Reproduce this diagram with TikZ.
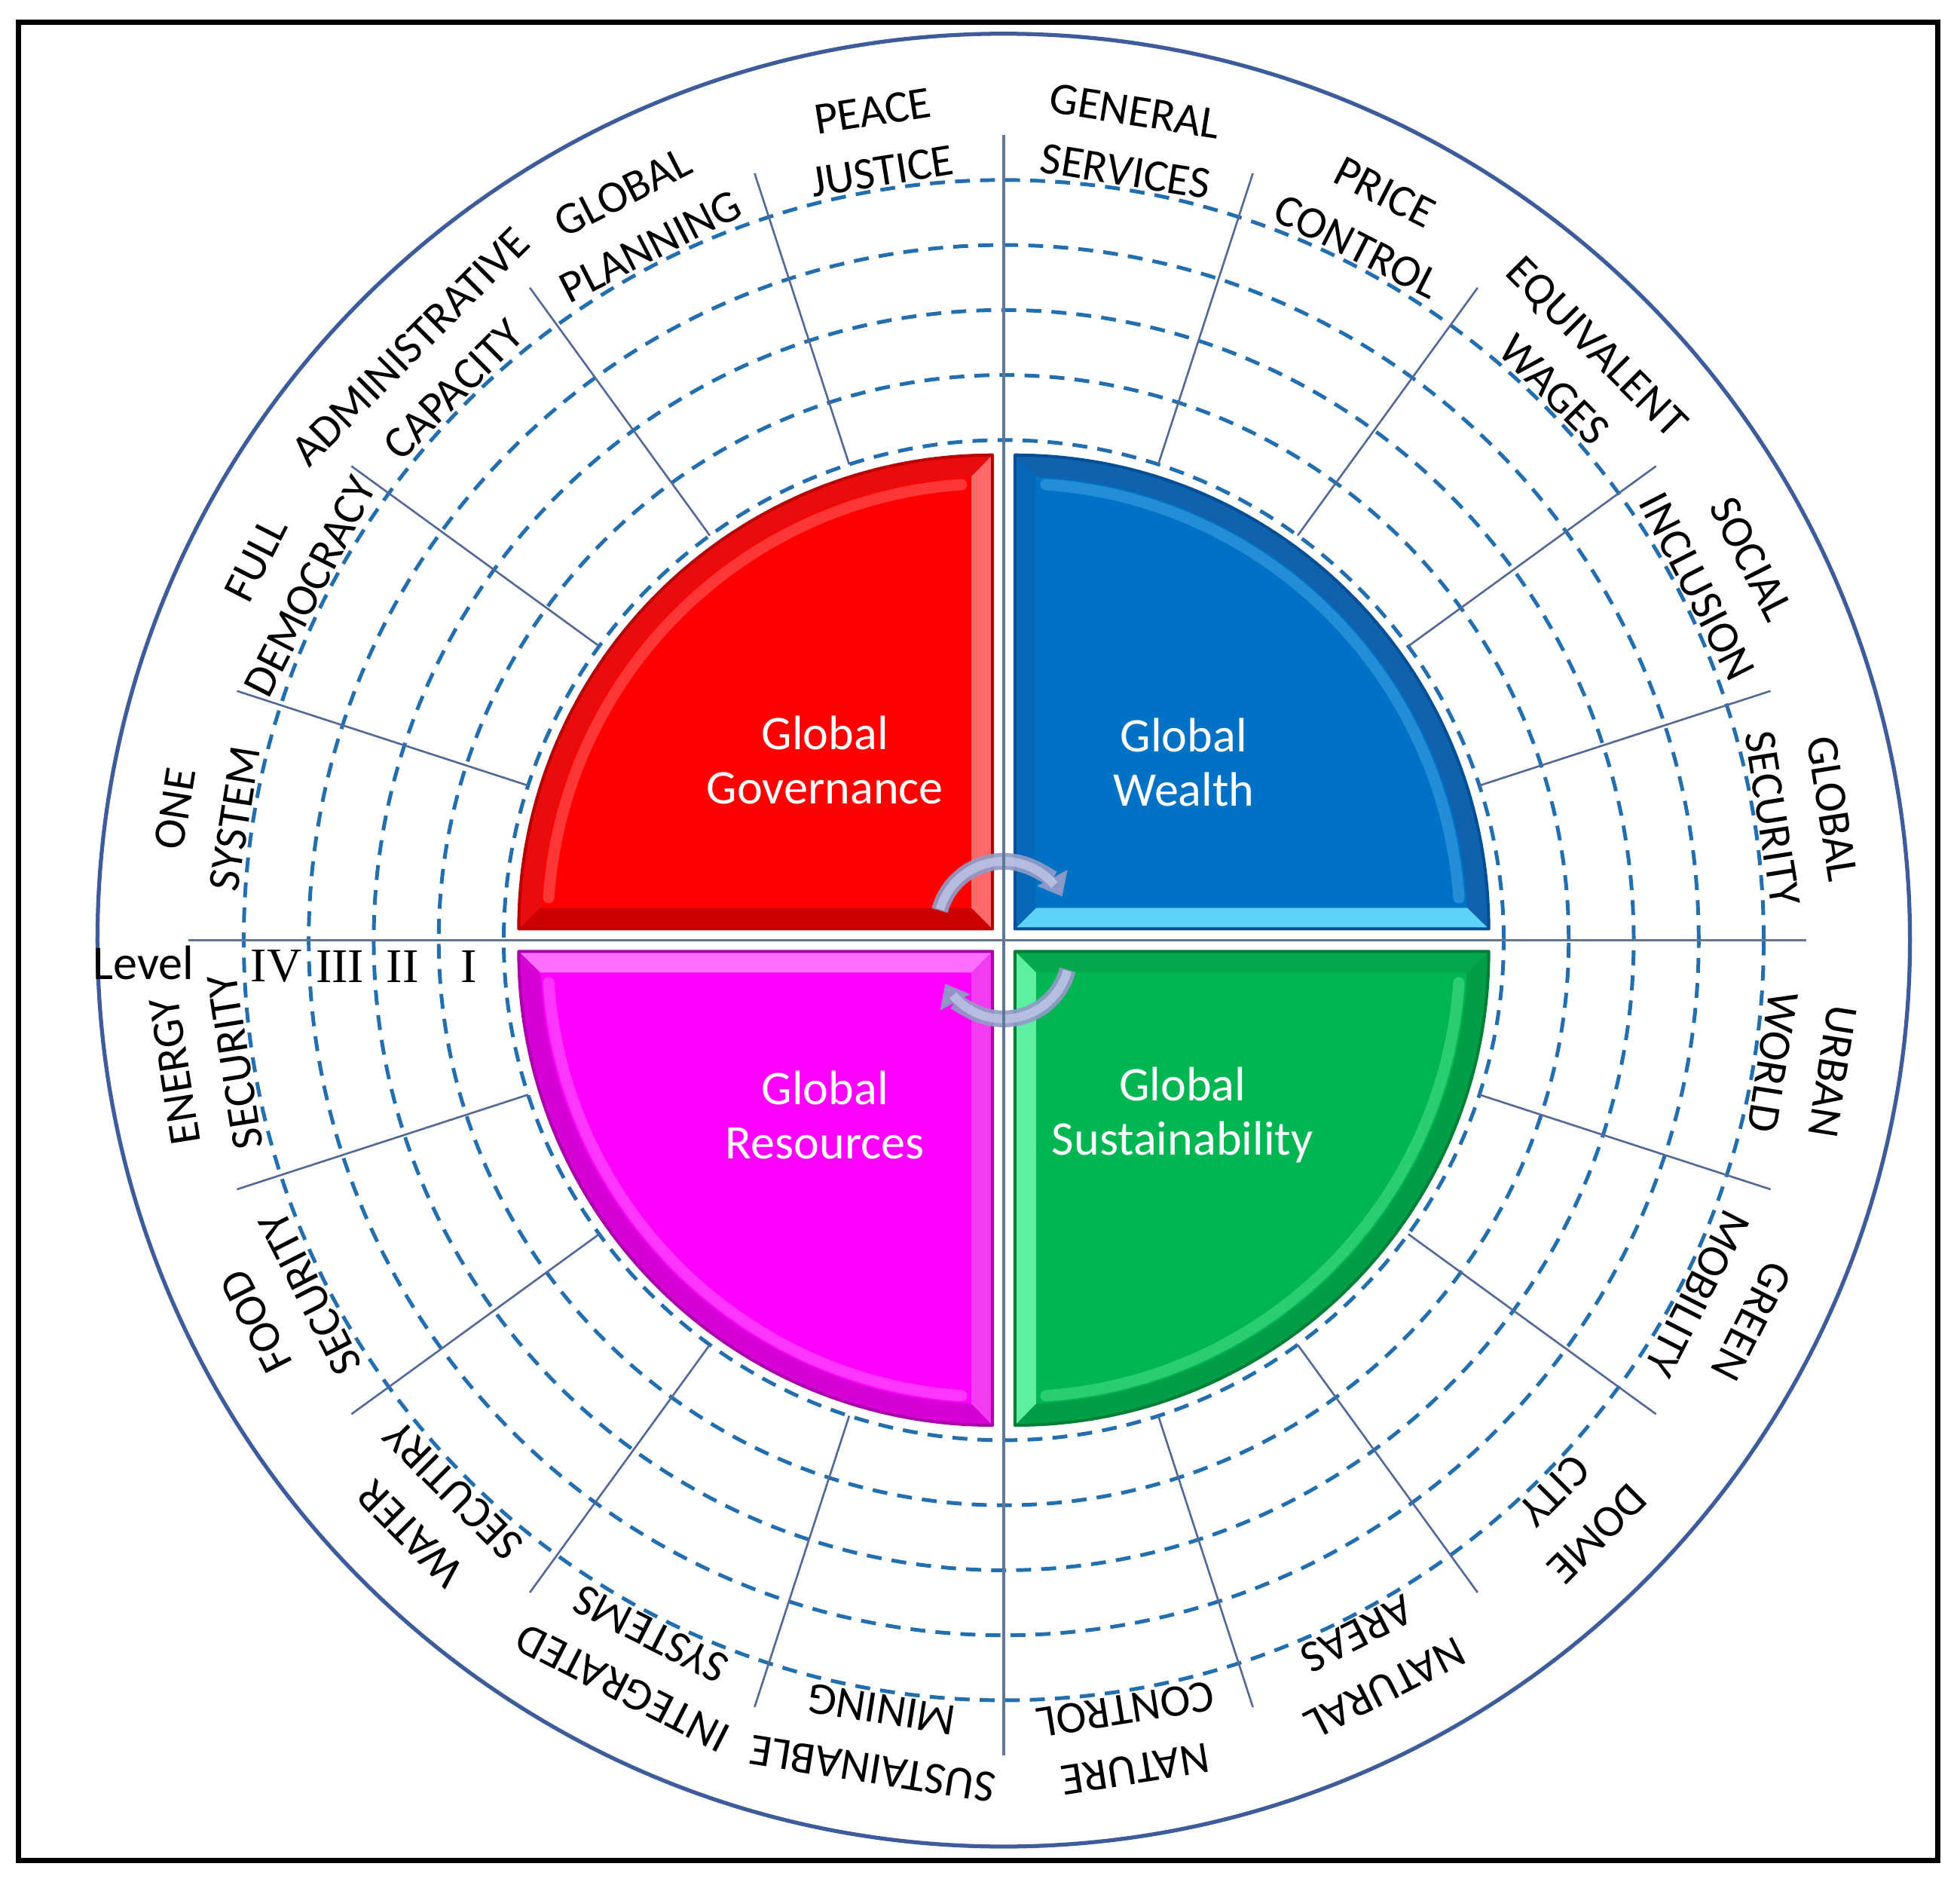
\documentclass[tikz,border=0pt]{standalone}
\usepackage{fontspec}
\setmainfont{Carlito}
\newfontfamily\romanfont{Liberation Serif}
\usetikzlibrary{arrows.meta}
\definecolor{ringblue}{RGB}{62,92,155}
\definecolor{spokeblue}{RGB}{85,105,150}
\definecolor{dashblue}{RGB}{35,110,175}
\definecolor{axisgray}{RGB}{100,118,150}
\definecolor{arrowedge}{RGB}{145,155,198}
\definecolor{arrowlav}{RGB}{186,194,228}
% red
\definecolor{redmain}{RGB}{255,0,0}
\definecolor{redarc}{RGB}{232,12,12}
\definecolor{redh}{RGB}{205,0,0}
\definecolor{redv}{RGB}{255,105,105}
\definecolor{redout}{RGB}{185,0,0}
\definecolor{redgloss}{RGB}{255,120,120}
% blue
\definecolor{bluemain}{RGB}{0,114,198}
\definecolor{bluearc}{RGB}{16,98,175}
\definecolor{blueh}{RGB}{95,210,248}
\definecolor{bluev}{RGB}{6,104,186}
\definecolor{blueout}{RGB}{0,78,150}
\definecolor{bluegloss}{RGB}{80,175,238}
% magenta
\definecolor{magmain}{RGB}{255,0,255}
\definecolor{magarc}{RGB}{215,0,215}
\definecolor{magh}{RGB}{255,110,255}
\definecolor{magv}{RGB}{242,60,242}
\definecolor{magout}{RGB}{170,0,170}
\definecolor{maggloss}{RGB}{255,120,255}
% green
\definecolor{grnmain}{RGB}{0,182,82}
\definecolor{grnarc}{RGB}{0,158,72}
\definecolor{grnh}{RGB}{4,168,76}
\definecolor{grnv}{RGB}{92,240,160}
\definecolor{grnout}{RGB}{0,125,55}
\definecolor{grngloss}{RGB}{90,236,150}
\def\qg{9}\def\qR{379}\def\qb{17}\def\qRin{361.6}\def\qang{2.69}
\newcommand{\drawquadrant}[8]{%
\begin{scope}[xscale=#1,yscale=#2]
\fill[#4] (\qg,\qg) -- (\qg+\qR,\qg) arc[start angle=0,end angle=90,radius=\qR] -- cycle;
\fill[#5] (\qg,\qg) -- (\qg+\qR,\qg) -- (\qg+\qRin,\qg+\qb) -- (\qg+\qb,\qg+\qb) -- cycle;
\fill[#6] (\qg,\qg) -- (\qg,\qg+\qR) -- (\qg+\qb,\qg+\qRin) -- (\qg+\qb,\qg+\qb) -- cycle;
\fill[#3] (\qg+\qb,\qg+\qb) -- (\qg+\qRin,\qg+\qb) arc[start angle=\qang,end angle=90-\qang,radius=\qR-\qb] -- cycle;
\draw[#8,line width=2.6pt,opacity=0.45,line cap=round] (364.1,34.1) arc[start angle=4,end angle=86,radius=356];
\draw[#7,line width=0.7pt,line join=round] (\qg,\qg) -- (\qg+\qR,\qg) arc[start angle=0,end angle=90,radius=\qR] -- cycle;
\end{scope}}
\begin{document}
\begin{tikzpicture}[x=0.01cm,y=0.01cm,
  dashring/.style={draw=dashblue,line width=0.85pt,dash pattern=on 3.4pt off 2.3pt},
  spoke/.style={draw=spokeblue,line width=0.45pt},
  axisline/.style={draw=axisgray,line width=0.6pt},
  ringlabel/.style={font=\fontsize{10.3}{13.8}\selectfont,align=center,inner sep=0pt,text=black},
  quadlabel/.style={font=\fontsize{11}{12.3}\selectfont,align=center,inner sep=0pt,text=white},
  levellabel/.style={font=\fontsize{11}{13}\selectfont,inner sep=0pt,text=black},
  numlabel/.style={font=\romanfont\fontsize{11}{13}\selectfont,inner sep=0pt,text=black},
  cyclearrow/.style={draw=arrowedge,line width=3.8pt,opacity=0.92,-{Triangle[width=7.5pt,length=4.8pt]}},
  cyclecore/.style={draw=arrowlav,line width=2.0pt,opacity=0.9}]
\useasboundingbox (-803,-758) rectangle (765,752);
\fill[white] (-803,-758) rectangle (765,752);
% frame
\draw[black,line width=1.2pt] (-788.5,-736) rectangle (747,734);
% outer circle
\draw[ringblue,line width=0.9pt] (0,0) circle[radius=725];
% dashed level circles
\foreach \r in {400,452,504,556,608} \draw[dashring] (0,0) circle[radius=\r];
% spokes
\foreach \a in {18,36,54,72,108,126,144,162,198,216,234,252,288,306,324,342}
  \draw[spoke] (\a:400) -- (\a:645);
% quadrants
\drawquadrant{-1}{1}{redmain}{redarc}{redh}{redv}{redout}{redgloss}
\drawquadrant{1}{1}{bluemain}{bluearc}{blueh}{bluev}{blueout}{bluegloss}
\drawquadrant{-1}{-1}{magmain}{magarc}{magh}{magv}{magout}{maggloss}
\drawquadrant{1}{-1}{grnmain}{grnarc}{grnh}{grnv}{grnout}{grngloss}
\node[quadlabel] (gov) at (-143,144) {Global\\Governance};
\node[quadlabel] (wealth) at (144,142) {Global\\Wealth};
\node[quadlabel] (res) at (-143,-140) {Global\\Resources};
\node[quadlabel] (sus) at (143,-140) {Global\\Sustainability};
% cycle arrows
\draw[cyclearrow] ([shift={(0,10)}]165:53) arc[start angle=165,end angle=28,radius=53];
\draw[cyclecore] ([shift={(0,10)}]164:53) arc[start angle=164,end angle=40,radius=53];
\draw[cyclearrow] ([shift={(0,-10)}]-15:53) arc[start angle=-15,end angle=-152,radius=53];
\draw[cyclecore] ([shift={(0,-10)}]-16:53) arc[start angle=-16,end angle=-140,radius=53];
% axes
\draw[axisline] (-652,0) -- (642,0);
\draw[axisline] (0,644) -- (0,-652);
% ring labels
\foreach \a/\o/\i [count=\n] in {81/GENERAL/SERVICES,63/PRICE/CONTROL,45/EQUIVALENT/WAGES,
  27/SOCIAL/INCLUSION,9/GLOBAL/SECURITY,-9/URBAN/WORLD,-27/GREEN/MOBILITY,-45/DOME/CITY,
  -63/NATURAL/AREAS,-81/NATURE/CONTROL,-99/SUSTAINABLE/MINING,-117/INTEGRATED/SYSTEMS,
  -135/WATER/SECUTIRY,-153/FOOD/SECURITY,-171/ENERGY/SECURITY,171/ONE/SYSTEM,
  153/FULL/DEMOCRACY,135/ADMINISTRATIVE/CAPACITY,117/GLOBAL/PLANNING,99/PEACE/JUSTICE}
  \node[ringlabel,rotate=\a-90] (lab\n) at (\a:647) {\o\\\i};
% level labels
\node[levellabel] (level) at (-688,-18) {Level};
\node[numlabel] (lvIV) at (-582,-21) {IV};
\node[numlabel] (lvIII) at (-531,-21) {III};
\node[numlabel] (lvII) at (-481,-21) {II};
\node[numlabel] (lvI) at (-428,-21) {I};
\end{tikzpicture}
\end{document}
